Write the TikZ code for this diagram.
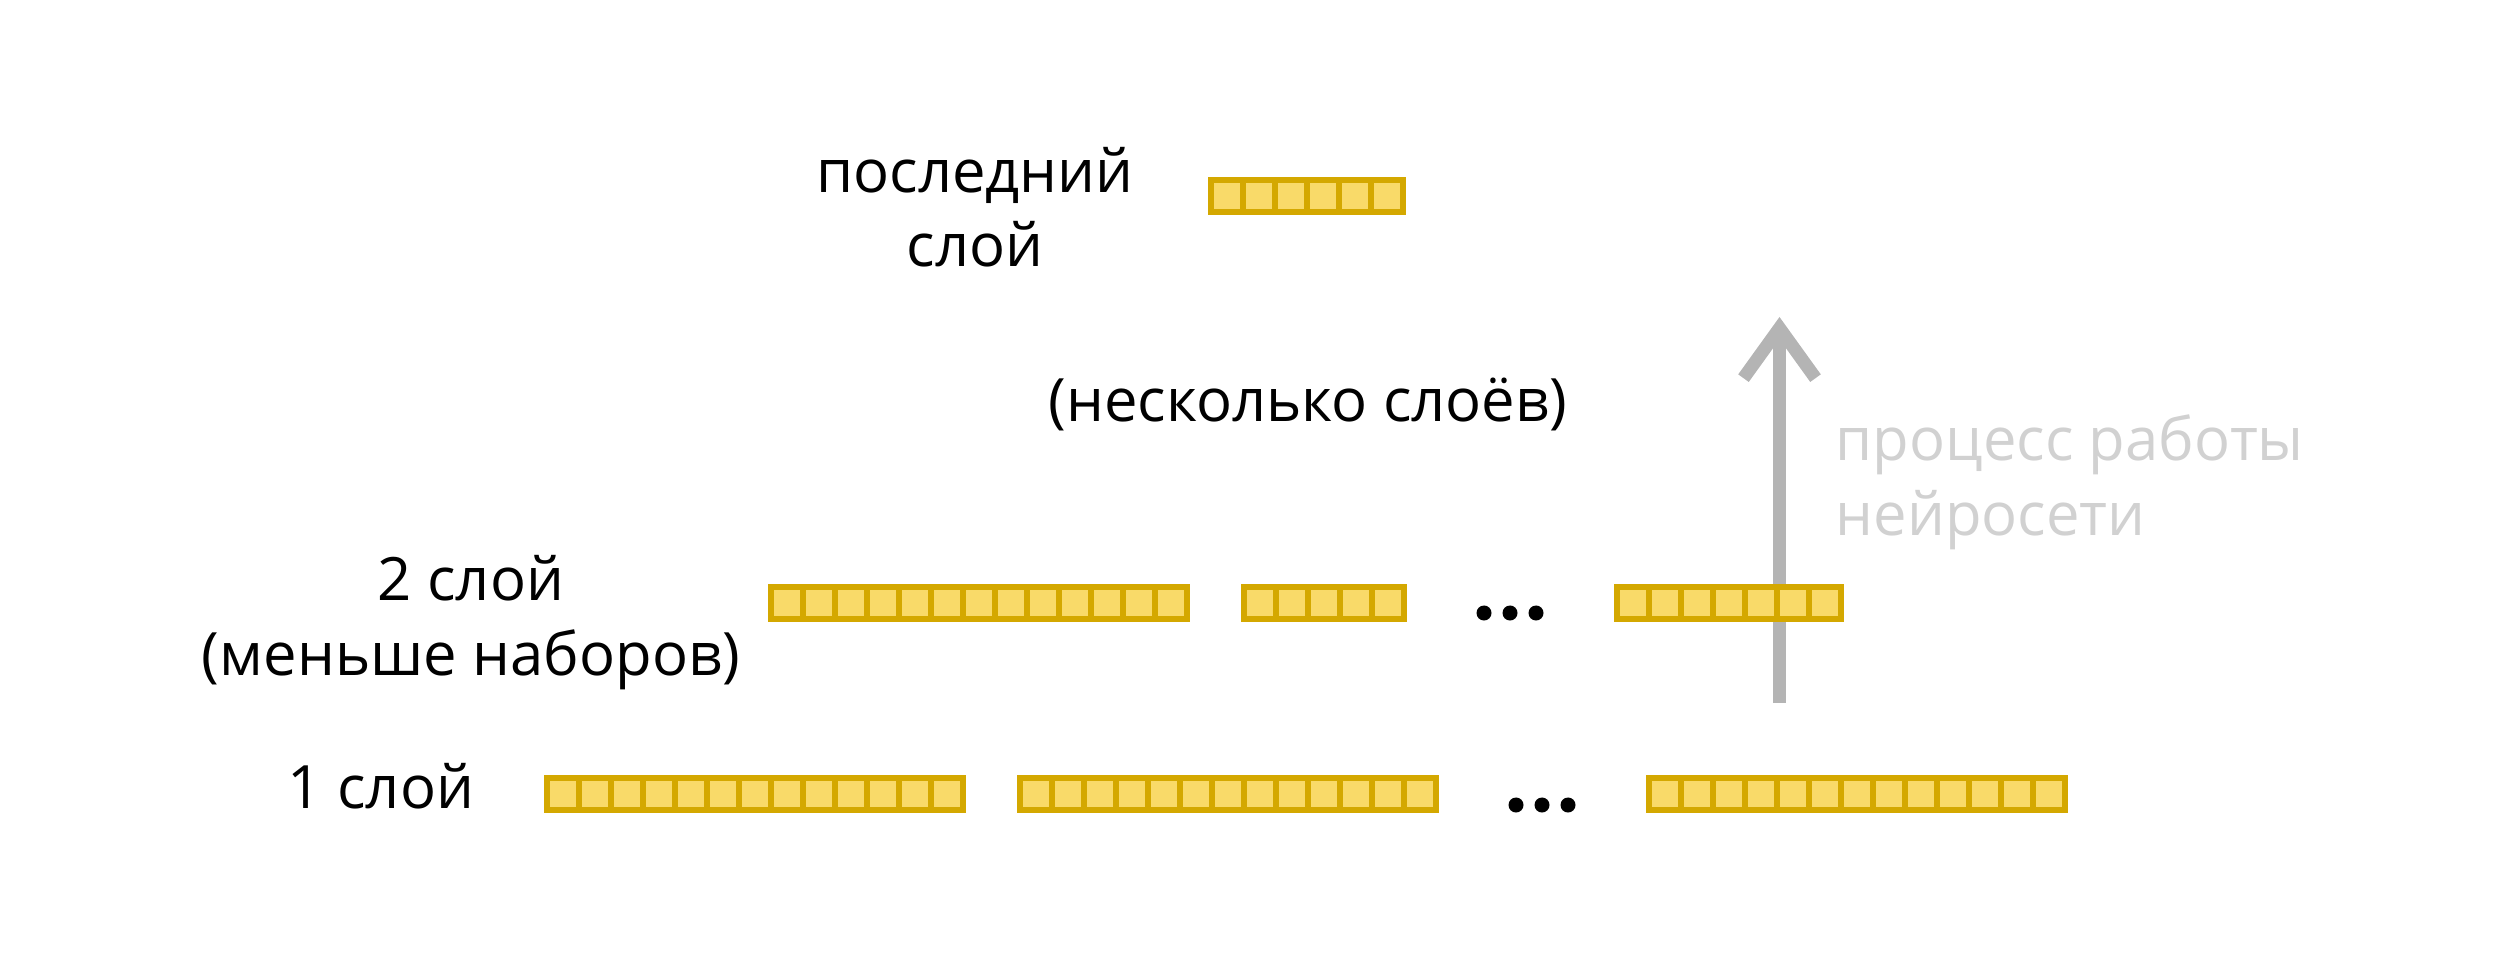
\documentclass[tikz,border=0pt]{standalone}
\usepackage{fontspec}
\setmainfont{Open Sans}
\usepackage{xcolor}
\definecolor{bargold}{RGB}{212, 168, 0}
\definecolor{cellyellow}{RGB}{249, 218, 105}
\definecolor{arrowgray}{RGB}{180, 180, 180}
\definecolor{notegray}{RGB}{209, 209, 209}
\usepackage{tikz}
\usetikzlibrary{arrows.meta, positioning}

\tikzset{
    layerlabel/.style={font=\fontsize{17pt}{21.3pt}\selectfont, inner sep=0pt, align=center, anchor=base, text=black},
    notelabel/.style={font=\fontsize{17pt}{21.3pt}\selectfont, inner sep=0pt, align=left, anchor=base west, text=notegray},
}

% one bar of cells: top-left x, top-left y, number of cells
\newcommand{\cellbar}[3]{%
    \fill[bargold] (#1,#2) rectangle ++(#3*32+6,38);
    \foreach \k in {1,...,#3}
        \fill[cellyellow] (#1+\k*32-26,#2+6) rectangle ++(26,26);
}

\begin{document}
\begin{tikzpicture}[x=0.01cm, y=-0.01cm]
    \useasboundingbox (0,0) rectangle (2520,979);

    % direction of the network
    \coordinate (flowstart) at (1779.5,703);
    \coordinate (flowend) at (1779.5,317);
    \draw[arrowgray, line width=0.13cm, -{Straight Barb[length=0.5cm, width=0.72cm]}] (flowstart) -- (flowend);

    % last layer
    \cellbar{1208}{177}{6}
    % second layer
    \cellbar{768}{584}{13}
    \cellbar{1241}{584}{5}
    \cellbar{1614}{584}{7}
    % first layer
    \cellbar{544}{775}{13}
    \cellbar{1017}{775}{13}
    \cellbar{1646}{775}{13}

    \foreach \dx in {1484,1510,1536}
        \fill (\dx,613) circle[radius=0.075cm];
    \foreach \dx in {1516,1542,1568}
        \fill (\dx,805) circle[radius=0.075cm];

    % multi-line labels sit on the baseline of their last line
    \node[layerlabel] (lastlabel) at (975,267) {последний\\слой};
    \node[layerlabel] (midlabel) at (1308,422) {(несколько слоёв)};
    \node[layerlabel] (secondlabel) at (471,675) {2 слой\\(меньше наборов)};
    \node[layerlabel] (firstlabel) at (381,808) {1 слой};
    \node[notelabel] (flowlabel) at (1835,535) {процесс работы\\нейросети};
\end{tikzpicture}
\end{document}
